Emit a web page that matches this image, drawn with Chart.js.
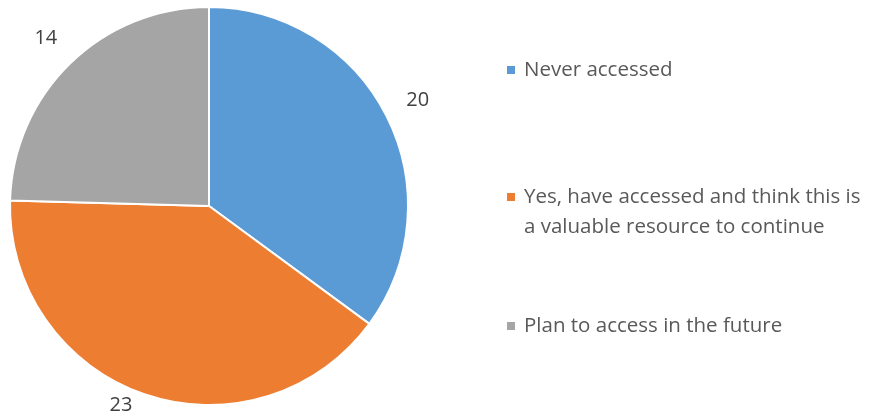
<!DOCTYPE html>
<html>
<head>
<meta charset="utf-8">
<script src="https://cdn.jsdelivr.net/npm/chart.js@4/dist/chart.umd.min.js"></script>
<style>
  html, body { margin: 0; padding: 0; background: #ffffff; }
  #wrap { position: relative; width: 874px; height: 416px; }
</style>
</head>
<body>
<div id="wrap"><canvas id="c" width="874" height="416"></canvas></div>
<script>
const categories = [
  "Never accessed",
  ["Yes, have accessed and think this is", "a valuable resource to continue"],
  "Plan to access in the future"
];
const values = [20, 23, 14];
const colors = ["#5B9BD5", "#ED7D31", "#A5A5A5"];

const FONT = "'Open Sans', sans-serif";

const outsideLabels = {
  id: "outsideLabels",
  afterDatasetsDraw(chart) {
    const ctx = chart.ctx;
    const meta = chart.getDatasetMeta(0);
    ctx.save();
    ctx.font = "20px " + FONT;
    ctx.fillStyle = "#404040";
    ctx.textAlign = "center";
    ctx.textBaseline = "middle";
    meta.data.forEach((arc, i) => {
      const p = arc.getProps(["x", "y", "startAngle", "endAngle", "outerRadius"], true);
      const mid = (p.startAngle + p.endAngle) / 2;
      const R = p.outerRadius + 35;
      let x = p.x + Math.cos(mid) * R;
      let y = p.y + Math.sin(mid) * R;
      const maxY = chart.height - 11;
      if (y > maxY) { x -= 12; y = maxY; }
      ctx.fillText(String(values[i]), x, y);
    });
    ctx.restore();
  }
};

const sideLegend = {
  id: "sideLegend",
  afterDraw(chart) {
    const ctx = chart.ctx;
    ctx.save();
    ctx.font = "20.5px " + FONT;
    ctx.textBaseline = "middle";
    const boxX = 507, textX = 524, lineH = 30;
    const itemTops = [70, 197, 326];
    categories.forEach((lab, i) => {
      const lines = Array.isArray(lab) ? lab : [lab];
      const y0 = itemTops[i];
      ctx.fillStyle = colors[i];
      ctx.fillRect(boxX, y0 - 4, 8, 8);
      ctx.fillStyle = "#595959";
      lines.forEach((ln, k) => ctx.fillText(ln, textX, y0 + k * lineH));
    });
    ctx.restore();
  }
};

new Chart(document.getElementById("c"), {
  type: "pie",
  data: {
    labels: categories,
    datasets: [{
      data: values,
      backgroundColor: colors,
      borderColor: "#ffffff",
      borderWidth: 2
    }]
  },
  options: {
    responsive: false,
    animation: false,
    events: [],
    layout: { padding: { left: 9, top: 6, bottom: 10, right: 465 } },
    plugins: {
      legend: { display: false },
      tooltip: { enabled: false },
      title: { display: false }
    }
  },
  plugins: [outsideLabels, sideLegend]
});
</script>
</body>
</html>
